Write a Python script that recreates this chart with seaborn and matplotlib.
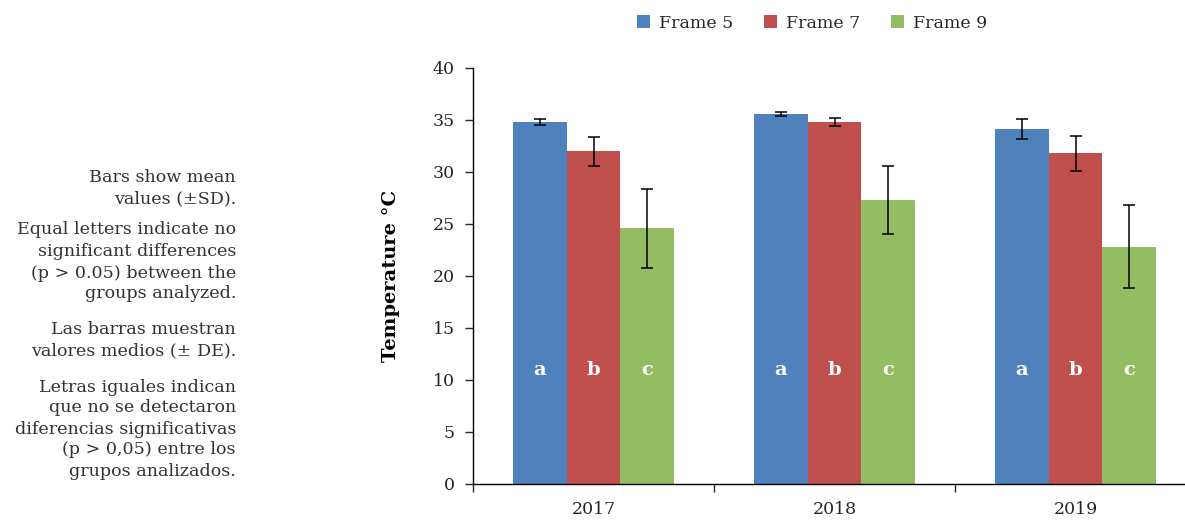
import matplotlib
matplotlib.use("Agg")
import matplotlib.pyplot as plt
import seaborn as sns
import pandas as pd
import numpy as np

years = ["2017", "2018", "2019"]
frames = ["Frame 5", "Frame 7", "Frame 9"]
means = {
    "Frame 5": [34.8, 35.6, 34.1],
    "Frame 7": [32.0, 34.8, 31.8],
    "Frame 9": [24.6, 27.3, 22.8],
}
sds = {
    "Frame 5": [0.3, 0.2, 0.95],
    "Frame 7": [1.4, 0.35, 1.7],
    "Frame 9": [3.8, 3.3, 4.0],
}
letters = ["a", "b", "c"]
letter_y = 11
colors = ["#4F81BD", "#C0504D", "#92BD62"]
y_ticks = [0, 5, 10, 15, 20, 25, 30, 35, 40]

notes = [
    ["Bars show mean", "values (±SD)."],
    ["Equal letters indicate no", "significant differences", "(p > 0.05) between the", "groups analyzed."],
    ["Las barras muestran", "valores medios (± DE)."],
    ["Letras iguales indican", "que no se detectaron", "diferencias significativas", "(p > 0,05) entre los", "grupos analizados."],
]

rows = []
for f in frames:
    for y, m in zip(years, means[f]):
        rows.append({"year": y, "frame": f, "temp": m})
df = pd.DataFrame(rows)

sns.set_theme(style="white")
plt.rcParams["font.family"] = ["DejaVu Serif", "Liberation Serif"]

W, H = 1185, 523
fig = plt.figure(figsize=(W / 100, H / 100), dpi=100)
ax = fig.add_axes([473 / W, 39 / H, 723 / W, 416 / H])

sns.barplot(data=df, x="year", y="temp", hue="frame", palette=colors,
            width=0.67, errorbar=None, ax=ax, linewidth=0, saturation=1)

for i, (f, cont) in enumerate(zip(frames, ax.containers)):
    xs = [b.get_x() + b.get_width() / 2 for b in cont]
    hs = [b.get_height() for b in cont]
    ax.errorbar(xs, hs, yerr=sds[f], fmt="none", ecolor="black",
                elinewidth=1.1, capsize=4, capthick=1.1, zorder=5)
    for x in xs:
        ax.text(x, letter_y, letters[i], ha="center", va="center",
                color="white", fontsize=14, fontweight="bold")

ax.set_xlim(-0.5, 2.5)
ax.set_ylim(0, 40)
ax.set_yticks(y_ticks)
ax.set_xlabel("")
ax.set_ylabel("Temperature °C", fontsize=14, fontweight="bold", color="black")
ax.yaxis.set_label_coords((400 - 473) / 723, 0.5)
ax.tick_params(axis="y", labelsize=12.5, length=6, width=1, direction="out", left=True, pad=7)
ax.tick_params(axis="x", labelsize=12.5, length=0, pad=12)
ax.set_xticks(range(len(years)))
ax.set_xticklabels(years)
ax.set_xticks([-0.5, 0.5, 1.5, 2.5], minor=True)
ax.tick_params(axis="x", which="minor", length=6, width=1, direction="out", bottom=True)
for s in ["top", "right"]:
    ax.spines[s].set_visible(False)
for s in ["left", "bottom"]:
    ax.spines[s].set_color("black")
    ax.spines[s].set_linewidth(1)

sns.move_legend(ax, "center", bbox_to_anchor=(812 / W, 1 - 23 / H),
                bbox_transform=fig.transFigure, ncol=3, frameon=False,
                title=None, fontsize=12.5, handlelength=0.75, handleheight=0.75,
                handletextpad=0.5, columnspacing=1.8)

line_y = [[177, 199], [230, 252, 273, 294], [330, 351], [387, 408, 429, 450, 471]]
for para, ys in zip(notes, line_y):
    for txt, yy in zip(para, ys):
        fig.text(236 / W, 1 - yy / H, txt, ha="right", va="center",
                 fontsize=12.6, color="#333333")

fig.savefig("out.png", dpi=100)
